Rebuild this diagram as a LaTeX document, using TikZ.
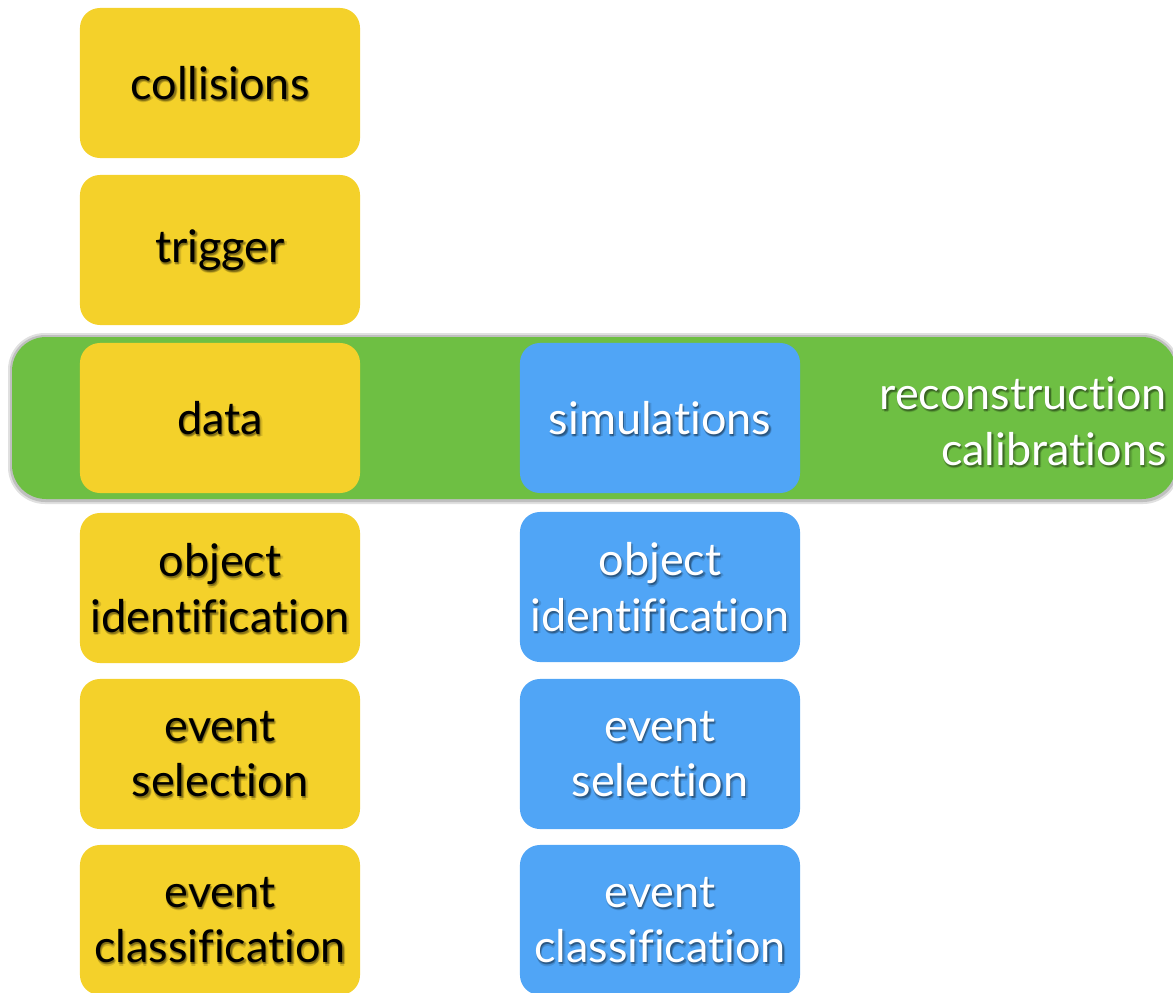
\documentclass[tikz,border=0pt]{standalone}
\usepackage{fontspec}
\setmainfont{Lato}[Ligatures=NoCommon]
\usetikzlibrary{positioning}
\definecolor{stageyellow}{HTML}{F4D12A}
\definecolor{bandgreen}{HTML}{6EBF43}
\definecolor{simblue}{HTML}{50A5F6}
\tikzset{
    databox/.style={fill=stageyellow, rounded corners=0.5cm, minimum width=7cm, minimum height=3.75cm, inner sep=0pt},
    simbox/.style={databox, fill=simblue},
    boxtext/.style={align=center, font=\fontsize{32}{39.5}\selectfont, inner sep=0pt},
    darktext/.style={boxtext, text=black},
    lighttext/.style={boxtext, text=white},
    shadowtext/.style={boxtext, text=black, opacity=0.13},
}
% name, x, y, box style, text style, text
\newcommand{\drawstage}[6]{
    \node [#4] (#1) at (#2,#3) {};
    \foreach \dx/\dy [count=\k] in {0/-1.5, 2/-1.5, 1/-0.5, 1/-2.5, 1/-1.5}
        \node [shadowtext] (#1-sh\k) at ([xshift=\dx pt, yshift=\dy pt]#1.center) {#6};
    \node [#5] (#1-txt) at (#1.center) {#6};
}

\begin{document}
\begin{tikzpicture}[x=0.025cm, y=-0.025cm]
    \useasboundingbox (0,0) rectangle (1173,993);
    % reconstruction band
    \fill [black!12, rounded corners=0.92cm] (8,333) rectangle (1180,504);
    \fill [black!25, rounded corners=0.88cm] (10,335) rectangle (1178,502);
    \fill [bandgreen, rounded corners=0.85cm] (12,337) rectangle (1176,499);
    % data chain
    \drawstage{collisions}{220}{83}{databox}{darktext}{collisions}
    \drawstage{trigger}{220}{250}{databox}{darktext}{trigger}
    \drawstage{data}{220}{418}{databox}{darktext}{data}
    \drawstage{dataobj}{220}{588}{databox}{darktext}{object\\identification}
    \drawstage{datasel}{220}{754}{databox}{darktext}{event\\selection}
    \drawstage{dataclass}{220}{920}{databox}{darktext}{event\\classification}
    % simulation chain
    \drawstage{sim}{660}{418}{simbox}{lighttext}{simulations}
    \drawstage{simobj}{660}{587}{simbox}{lighttext}{object\\identification}
    \drawstage{simsel}{660}{754}{simbox}{lighttext}{event\\selection}
    \drawstage{simclass}{660}{920}{simbox}{lighttext}{event\\classification}
    % band label
    \coordinate (reco-pos) at (1167,421);
    \foreach \dx/\dy [count=\k] in {0/-1.5, 2/-1.5, 1/-0.5, 1/-2.5, 1/-1.5}
        \node [shadowtext, align=right, anchor=east] (reco-sh\k) at ([xshift=\dx pt, yshift=\dy pt]reco-pos) {reconstruction\\calibrations};
    \node [lighttext, align=right, anchor=east] (reco) at (reco-pos) {reconstruction\\calibrations};
\end{tikzpicture}
\end{document}
